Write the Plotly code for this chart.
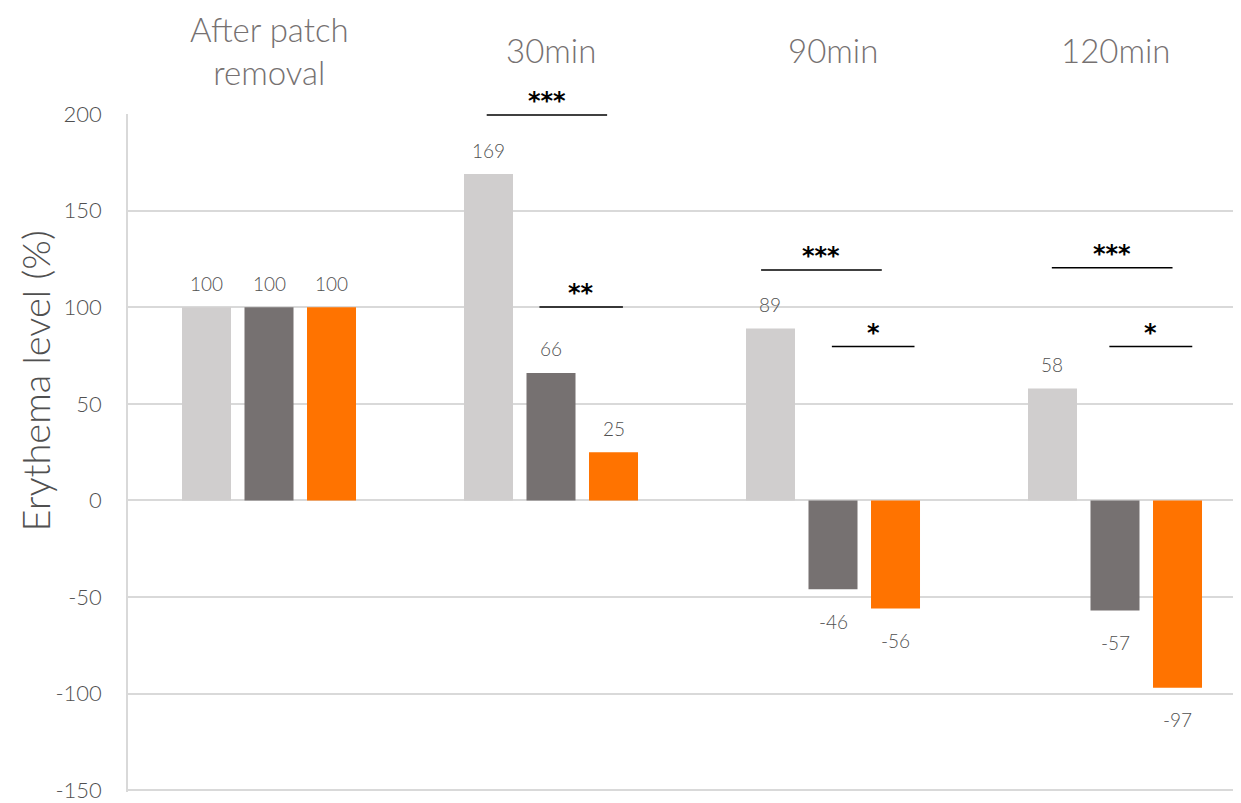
import plotly.graph_objects as go

categories = ["After patch<br>removal", "30min", "90min", "120min"]
series_names = ["Group A", "Group B", "Group C"]
series_values = [
    [100, 169, 89, 58],
    [100, 66, -46, -57],
    [100, 25, -56, -97],
]
series_colors = ["#D0CECE", "#767171", "#FF7300"]

# significance brackets: (category index, start offset, end offset, y value, label)
brackets = [
    (1, -0.228, 0.199, 199.6, "***"),
    (1, -0.041, 0.255, 100.2, "**"),
    (2, -0.255, 0.173, 119.3, "***"),
    (2, -0.004, 0.289, 79.7, "*"),
    (3, -0.224, 0.204, 120.5, "***"),
    (3, -0.020, 0.274, 79.7, "*"),
]

y_ticks = [-150, -100, -50, 0, 50, 100, 150, 200]
y_tick_labels = ["-150", "-100", "-50", "0", "50", "100", "150", "200"]

FONT = "Lato"
LABEL_GRAY = "#505050"
CAT_GRAY = "#767171"

bargap = 0.335
bargroupgap = 0.216
slot = (1 - bargap) / len(series_values)

fig = go.Figure()
xs = list(range(len(categories)))
for name, vals, col in zip(series_names, series_values, series_colors):
    fig.add_trace(go.Bar(
        x=xs, y=vals, name=name, marker=dict(color=col, line=dict(width=0)),
        showlegend=False, hoverinfo="y",
    ))

annotations = []
# data labels
for si, vals in enumerate(series_values):
    off = (si - (len(series_values) - 1) / 2) * slot
    for ci, v in enumerate(vals):
        annotations.append(dict(
            x=ci + off, y=v, xref="x", yref="y", text=str(v), showarrow=False,
            yanchor="middle", xanchor="center",
            yshift=24 if v >= 0 else -32,
            font=dict(family=FONT, size=19, color=LABEL_GRAY, weight=300),
        ))

# category labels at top (pixel y in page coordinates)
for ci, c in enumerate(categories):
    annotations.append(dict(
        x=ci, y=50, xref="x", yref="paper", text=c, showarrow=False,
        yanchor="middle", xanchor="center",
        font=dict(family=FONT, size=33, color=CAT_GRAY, weight=300),
    ))

shapes = []
for ci, a, b, yv, lab in brackets:
    shapes.append(dict(type="line", xref="x", yref="y", x0=ci + a, x1=ci + b,
                       y0=yv, y1=yv, line=dict(color="black", width=1.5)))
    annotations.append(dict(
        x=ci + (a + b) / 2, y=yv, xref="x", yref="y", text=lab, showarrow=False,
        yanchor="bottom", xanchor="center", yshift=-2,
        font=dict(family="DejaVu Sans", size=24, color="black", weight="bold"),
    ))

# y axis title (pixel position in page coordinates)
annotations.append(dict(
    x=35, y=383, xref="paper", yref="paper", text="Erythema level (%)",
    showarrow=False, textangle=-90, xanchor="center", yanchor="middle",
    font=dict(family=FONT, size=38, color=LABEL_GRAY, weight=300),
))

# page has an 8px body margin: compensate so the plot lands where intended
OFF = 8
W, H = 1241 - OFF, 803 - OFF
ML, MR, MT, MB = 128 - OFF, 0, 114 - OFF, 7
pw = W - ML - MR
ph = H - MT - MB
for an in annotations:
    if an.get("xref") == "paper":
        an["x"] = (an["x"] - OFF - ML) / pw
    if an.get("yref") == "paper":
        an["y"] = 1 - (an["y"] - OFF - MT) / ph

group_px = 282
fig.update_layout(
    width=W, height=H,
    margin=dict(l=ML, r=MR, t=MT, b=MB, pad=0),
    paper_bgcolor="white", plot_bgcolor="white",
    barmode="group", bargap=bargap, bargroupgap=bargroupgap,
    font=dict(family=FONT, color=LABEL_GRAY),
    xaxis=dict(range=[-0.5, -0.5 + pw / group_px], showticklabels=False,
               showgrid=False, zeroline=False, showline=False, ticks=""),
    yaxis=dict(range=[-151, 200.1], tickvals=y_ticks, ticktext=y_tick_labels,
               showgrid=True, gridcolor="#D9D9D9", gridwidth=1.5, zeroline=False,
               showline=True, linecolor="#D9D9D9", linewidth=1.5,
               ticks="", ticklabelstandoff=20, ticklabeloverflow="allow",
               tickfont=dict(family=FONT, size=22, color=LABEL_GRAY, weight=300)),
    annotations=annotations, shapes=shapes,
)
fig.write_html("out.html")
